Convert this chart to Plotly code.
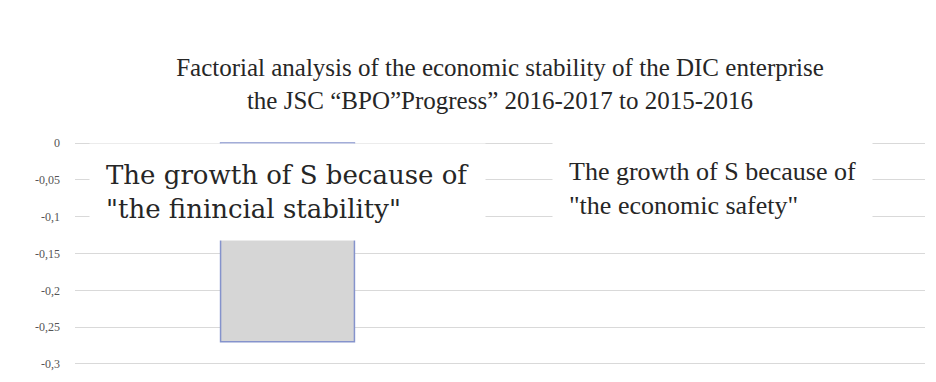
import plotly.graph_objects as go

# Factor contributions to the change in economic stability
categories = ["financial stability", "economic safety"]
values = [-0.27, -0.001]
bar_labels = [
    "The growth of S because of<br>\"the finincial stability\"",
    "The growth of S because of<br>\"the economic safety\"",
]
label_levels = [-0.067, -0.062]

tick_vals = [0, -0.05, -0.1, -0.15, -0.2, -0.25, -0.3]
tick_text = ["0", "-0,05", "-0,1", "-0,15", "-0,2", "-0,25", "-0,3"]

title_text = ("Factorial analysis of the economic stability of the DIC enterprise<br>"
              "the JSC \u201cBPO\u201dProgress\u201d 2016-2017 to 2015-2016")

SERIF = "Times New Roman, Liberation Serif, serif"

fig = go.Figure()
fig.add_trace(go.Bar(
    x=categories,
    y=values,
    marker=dict(color="#d6d6d6", line=dict(color="#8593cc", width=[1.5, 0])),
    width=0.315,
    hoverinfo="skip",
))

label_fonts = [
    dict(family="DejaVu Serif", size=26, color="#262626"),
    dict(family=SERIF, size=26, color="#262626"),
]
label_pads = [16, 16]
for cat, txt, lvl, fnt, pad in zip(categories, bar_labels, label_levels, label_fonts, label_pads):
    fig.add_annotation(
        x=cat, y=lvl, xref="x", yref="y",
        text=txt, showarrow=False, align="left",
        font=fnt, bgcolor="white", borderpad=pad,
    )

fig.update_layout(
    width=936, height=382,
    margin=dict(l=75, r=11, t=142, b=15),
    paper_bgcolor="white", plot_bgcolor="white",
    showlegend=False,
    title=dict(
        text=title_text, x=0.5, xref="paper", xanchor="center",
        y=0.8, yref="container", yanchor="middle",
        font=dict(family=SERIF, size=25, color="#262626"),
    ),
    xaxis=dict(showticklabels=False, showgrid=False, zeroline=False,
               showline=False, ticks=""),
    yaxis=dict(
        range=[-0.3015, 0.0015], tickvals=tick_vals, ticktext=tick_text,
        showgrid=True, gridcolor="#d9d9d9", gridwidth=1,
        zeroline=False, showline=False, ticks="",
        ticklabelstandoff=14,
        tickfont=dict(family=SERIF, size=12, color="#555555"),
    ),
)

fig.write_html("out.html")
